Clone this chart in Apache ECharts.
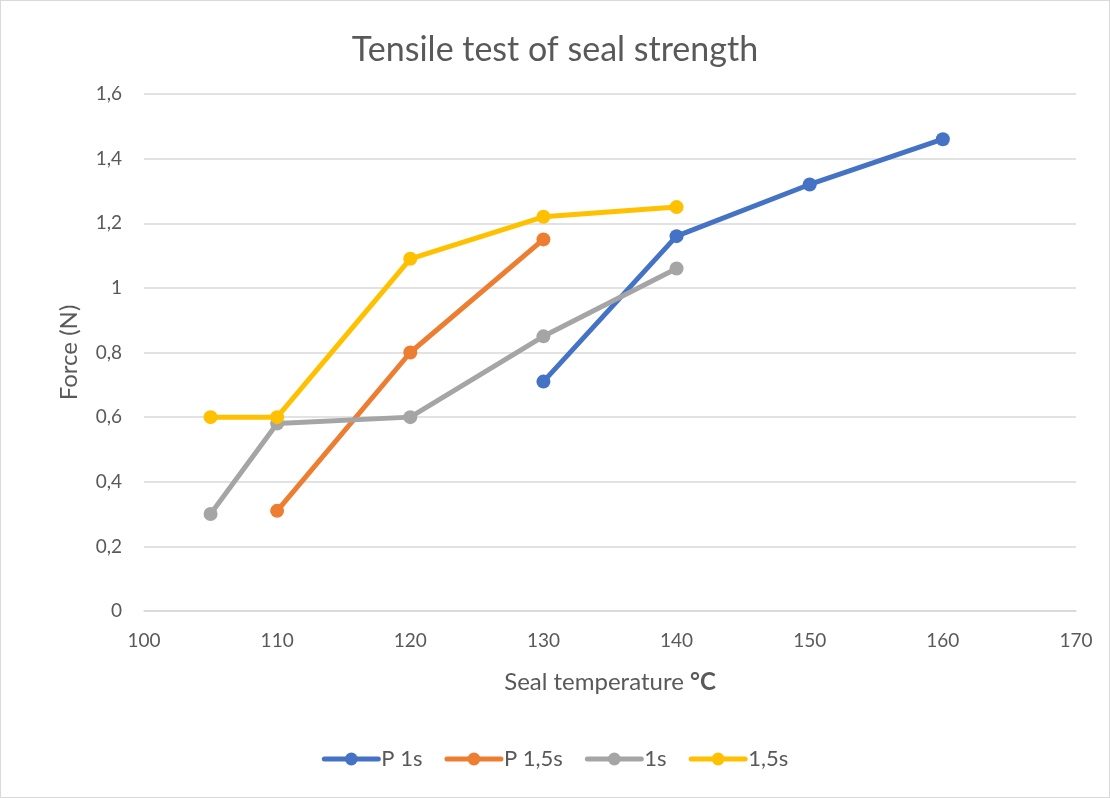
<!DOCTYPE html>
<html>
<head>
<meta charset="utf-8">
<script src="https://cdn.jsdelivr.net/npm/echarts@6/dist/echarts.min.js"></script>
<style>
  html, body { margin: 0; padding: 0; background: #fff; }
  #chart { width: 1110px; height: 798px; box-sizing: border-box; border: 1px solid #d9d9d9; }
</style>
</head>
<body>
<div id="chart"></div>
<script>
// Seal temperature (°C) / force (N) pairs for each sealing setup
const seriesNames = ['P 1s', 'P 1,5s', '1s', '1,5s'];
const p1s   = [[130, 0.71], [140, 1.16], [150, 1.32], [160, 1.46]];
const p15s  = [[110, 0.31], [120, 0.80], [130, 1.15]];
const s1    = [[105, 0.30], [110, 0.58], [120, 0.60], [130, 0.85], [140, 1.06]];
const s15   = [[105, 0.60], [110, 0.60], [120, 1.09], [130, 1.22], [140, 1.25]];
const colors = ['#4472c4', '#ed7d31', '#a5a5a5', '#ffc000'];

const FONT = 'Lato, "Open Sans", sans-serif';
const TEXT = '#595959';

const chart = echarts.init(document.getElementById('chart'), null, { renderer: 'canvas' });

function lineSeries(name, data, color) {
  return {
    name: name,
    type: 'line',
    data: data,
    symbol: 'circle',
    symbolSize: 14,
    lineStyle: { width: 5, color: color, cap: 'round', join: 'round' },
    itemStyle: { color: color },
    emphasis: { disabled: true },
    z: 3
  };
}

chart.setOption({
  animation: false,
  color: colors,
  textStyle: { fontFamily: FONT },
  title: {
    text: 'Tensile test of seal strength',
    left: 'center',
    top: 27,
    textStyle: { fontFamily: FONT, fontSize: 34, fontWeight: 'normal', color: TEXT }
  },
  legend: {
    data: seriesNames,
    bottom: 22,
    left: 'center',
    itemWidth: 54,
    itemHeight: 16,
    itemGap: 22,
    lineStyle: { width: 5, cap: 'round' },
    textStyle: { fontFamily: FONT, fontSize: 22, color: TEXT, padding: [0, 0, 0, -2] }
  },
  grid: { left: 143, right: 33, top: 93, bottom: 186, containLabel: false },
  xAxis: {
    type: 'value',
    min: 100,
    max: 170,
    interval: 10,
    name: 'Seal temperature {b|°C}',
    nameLocation: 'middle',
    nameGap: 59,
    nameTextStyle: {
      fontFamily: FONT, fontSize: 24, color: TEXT,
      rich: { b: { fontFamily: FONT, fontSize: 24, fontWeight: 'bold', color: TEXT } }
    },
    axisLine: { show: true, lineStyle: { color: '#d9d9d9', width: 1.5 } },
    axisTick: { show: false },
    splitLine: { show: false },
    axisLabel: { margin: 20, fontFamily: FONT, fontSize: 19, color: TEXT }
  },
  yAxis: {
    type: 'value',
    min: 0,
    max: 1.6,
    interval: 0.2,
    name: 'Force (N)',
    nameLocation: 'middle',
    nameGap: 63,
    nameRotate: 90,
    nameTextStyle: { fontFamily: FONT, fontSize: 24, color: TEXT },
    axisLine: { show: false },
    axisTick: { show: false },
    splitLine: { show: true, lineStyle: { color: '#d9d9d9', width: 1.5 } },
    axisLabel: {
      margin: 22, fontFamily: FONT, fontSize: 19, color: TEXT,
      formatter: function (v) { return String(Math.round(v * 10) / 10).replace('.', ','); }
    }
  },
  series: [
    lineSeries(seriesNames[0], p1s, colors[0]),
    lineSeries(seriesNames[1], p15s, colors[1]),
    lineSeries(seriesNames[2], s1, colors[2]),
    lineSeries(seriesNames[3], s15, colors[3])
  ]
});
</script>
</body>
</html>
